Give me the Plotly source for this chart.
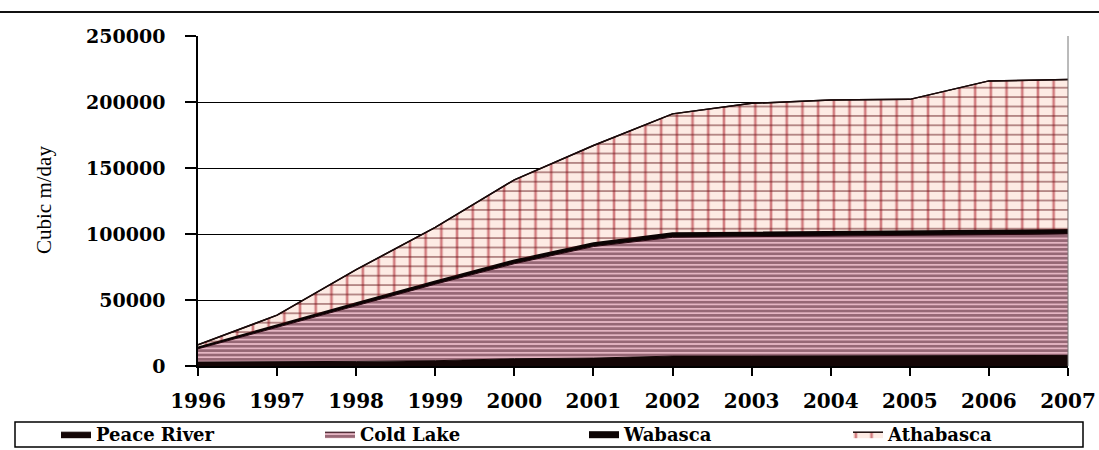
import numpy as np
import plotly.graph_objects as go

years = [1996, 1997, 1998, 1999, 2000, 2001, 2002, 2003, 2004, 2005, 2006, 2007]
peace_river = [3000, 3000, 3500, 4000, 5500, 6000, 7500, 7500, 7500, 7500, 8000, 8000]
cold_lake = [10000, 26500, 42000, 58000, 72000, 84500, 90000, 90500, 91000, 91500, 92000, 92000]
wabasca = [1000, 1500, 2000, 2000, 2500, 2500, 3000, 3000, 3000, 3000, 3000, 3000]
athabasca = [2000, 7500, 25500, 41000, 61000, 74000, 90500, 98000, 100000, 100000, 113000, 114000]
y_ticks = [0, 50000, 100000, 150000, 200000, 250000]

c1 = np.array(peace_river)
c2 = c1 + np.array(cold_lake)
c3 = c2 + np.array(wabasca)
c4 = c3 + np.array(athabasca)

LEG_FONT = dict(family="DejaVu Serif", size=18, color="black", weight="bold")

fig = go.Figure()
fig.add_trace(go.Scatter(
    x=years, y=c1, name="Peace River", mode="lines", fill="tozeroy",
    line=dict(color="#140606", width=1), fillcolor="#140606"))
fig.add_trace(go.Scatter(
    x=years, y=c2, name="Cold Lake", mode="lines", fill="tonexty",
    line=dict(color="#2a0610", width=1),
    fillpattern=dict(shape="-", size=4.4, solidity=0.68,
                     fgcolor="#360614", bgcolor="#f7c8d6")))
fig.add_trace(go.Scatter(
    x=years, y=c3, name="Wabasca", mode="lines", fill="tonexty",
    line=dict(color="#0c0404", width=2), fillcolor="#0c0404"))
fig.add_trace(go.Scatter(
    x=years, y=c4, name="Athabasca", mode="lines", fill="tonexty",
    line=dict(color="#1a0a0a", width=1.5),
    fillpattern=dict(shape="|", size=15.7, solidity=0.17,
                     fgcolor="#a80f1c", bgcolor="#fdebe4")))
# horizontal rules of the Athabasca grid hatch
fig.add_trace(go.Scatter(
    x=years, y=c3, mode="lines", line=dict(width=0, color="rgba(0,0,0,0)"),
    showlegend=False, hoverinfo="skip"))
fig.add_trace(go.Scatter(
    x=years, y=c4, mode="lines", fill="tonexty", showlegend=False,
    line=dict(color="#1a0a0a", width=1.5), hoverinfo="skip",
    fillpattern=dict(shape="-", size=9.4, solidity=0.18,
                     fgcolor="#5a0c10", bgcolor="rgba(0,0,0,0)")))

L, R, T, B = 198, 31, 36, 84
W, H = 1099, 450
pw, ph = W - L - R, H - T - B

def px_x(px):
    return (px - L) / pw

def px_y(py):
    return (H - B - py) / ph

fig.update_layout(
    width=W, height=H,
    margin=dict(l=L, r=R, t=T, b=B, autoexpand=False),
    paper_bgcolor="white", plot_bgcolor="white",
    showlegend=True,
    legend=dict(
        orientation="h", xref="paper", yref="paper",
        x=px_x(56), xanchor="left", y=px_y(434.5), yanchor="middle",
        entrywidth=219, entrywidthmode="pixels",
        font=LEG_FONT, bgcolor="rgba(0,0,0,0)", borderwidth=0,
        traceorder="normal", itemwidth=30),
    xaxis=dict(
        range=[1996, 2007], tickmode="array", tickvals=years,
        ticktext=[str(y) for y in years],
        showgrid=False, zeroline=False, automargin=False,
        showline=True, linecolor="black", linewidth=1.5,
        ticks="outside", ticklen=8, tickwidth=1.5, tickcolor="black",
        ticklabelstandoff=8,
        tickfont=dict(family="DejaVu Serif", size=20, color="black", weight="bold")),
    yaxis=dict(
        range=[0, 250000], tickmode="array", tickvals=y_ticks,
        ticktext=[str(v) for v in y_ticks],
        showgrid=True, gridcolor="black", gridwidth=1.2, zeroline=False,
        automargin=False,
        showline=True, linecolor="black", linewidth=1.5,
        ticks="outside", ticklen=11, tickwidth=1.5, tickcolor="black",
        ticklabelstandoff=16,
        tickfont=dict(family="DejaVu Serif", size=19, color="black", weight="bold")),
    shapes=[
        dict(type="line", xref="paper", yref="paper",
             x0=px_x(0), x1=px_x(W), y0=px_y(12), y1=px_y(12),
             line=dict(color="#111111", width=2)),
        dict(type="line", xref="paper", yref="paper",
             x0=1, x1=1, y0=0, y1=1, line=dict(color="#777777", width=1)),
        dict(type="rect", xref="paper", yref="paper",
             x0=px_x(15), x1=px_x(1083), y0=px_y(447), y1=px_y(422),
             line=dict(color="black", width=1.5), fillcolor="rgba(0,0,0,0)"),
    ],
    annotations=[
        dict(text="Cubic m/day", xref="paper", yref="paper",
             x=px_x(44), y=px_y(200), showarrow=False, textangle=-90,
             xanchor="center", yanchor="middle",
             font=dict(family="Liberation Serif", size=21, color="black")),
    ],
)

fig.write_html("out.html", config={"displayModeBar": False},
               post_script="document.body.style.margin='0';")
